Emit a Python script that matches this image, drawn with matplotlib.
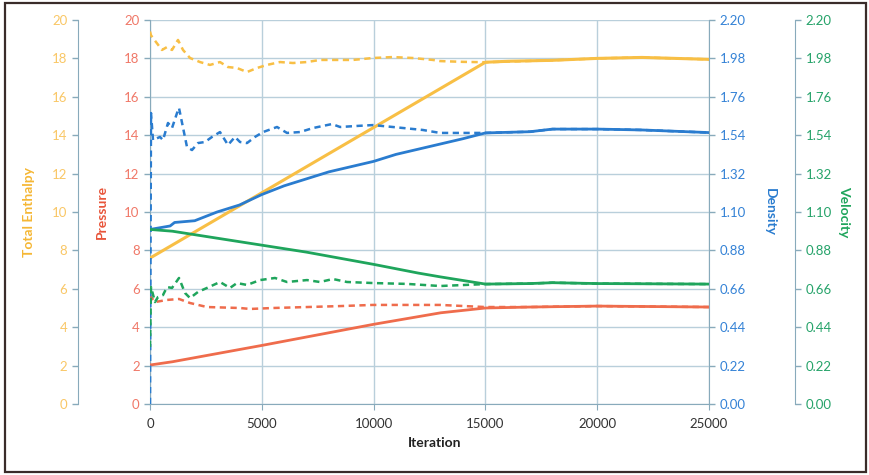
import matplotlib
matplotlib.use("Agg")
import matplotlib.pyplot as plt
from matplotlib.patches import Rectangle

# ---- data ----
ENTH_SOLID_IT = [0, 15000, 16000, 18000, 20000, 22000, 25000]
ENTH_SOLID = [7.6, 17.8, 17.85, 17.9, 18.0, 18.05, 17.95]

ENTH_DASH_IT = [0, 45, 134, 536, 760, 984, 1252, 1476, 1790, 2236, 2683, 3130, 3488, 3890,
                4338, 4785, 5232, 5815, 6395, 7020, 7600, 8180, 9075, 9970, 10860, 11760,
                12650, 12970, 14000, 15000, 18000, 20000, 22000, 25000]
ENTH_DASH = [19.4, 19.2, 19.06, 18.44, 18.59, 18.44, 18.96, 18.44, 18.02, 17.81, 17.66, 17.81,
             17.55, 17.5, 17.29, 17.5, 17.66, 17.81, 17.76, 17.81, 17.92, 17.92, 17.92, 18.02,
             18.07, 18.02, 17.92, 17.86, 17.82, 17.8, 17.9, 18.0, 18.05, 17.95]

PRES_SOLID_IT = [0, 1000, 5000, 10000, 13000, 15000, 17000, 20000, 22000, 25000]
PRES_SOLID = [2.03, 2.2, 3.05, 4.15, 4.75, 5.0, 5.05, 5.1, 5.08, 5.05]

PRES_DASH_IT = [0, 45, 224, 760, 1297, 1790, 2549, 4025, 4470, 5500, 7020, 8500, 9970,
                11500, 12970, 15000, 17000, 20000, 22000, 25000]
PRES_DASH = [5.7, 5.57, 5.31, 5.42, 5.47, 5.26, 5.05, 5.0, 4.95, 5.0, 5.05, 5.1, 5.16,
             5.16, 5.16, 5.05, 5.05, 5.1, 5.08, 5.05]

DENS_SOLID_IT = [0, 900, 1100, 2000, 3000, 4000, 5000, 6000, 7000, 8000, 9000, 10000, 11000,
                 12000, 13000, 14000, 15000, 17000, 18000, 20000, 22000, 25000]
DENS_SOLID = [1.0, 1.02, 1.04, 1.05, 1.1, 1.14, 1.2, 1.25, 1.29, 1.33, 1.36, 1.39, 1.43,
              1.46, 1.49, 1.52, 1.553, 1.56, 1.575, 1.575, 1.57, 1.555]

DENS_DASH_IT = [0, 45, 134, 447, 581, 805, 984, 1208, 1297, 1655, 1878, 2146, 2459, 2772,
                3130, 3488, 3801, 4025, 4338, 4696, 5054, 5680, 6127, 6708, 7289, 8140, 8500,
                9254, 9970, 10860, 12200, 12970, 15000, 17000, 18000, 20000, 22000, 25000]
DENS_DASH = [0.0, 1.667, 1.512, 1.53, 1.512, 1.61, 1.581, 1.667, 1.696, 1.472, 1.455, 1.495,
             1.501, 1.53, 1.558, 1.484, 1.53, 1.501, 1.495, 1.53, 1.558, 1.587, 1.553, 1.558,
             1.581, 1.604, 1.587, 1.593, 1.598, 1.587, 1.57, 1.553, 1.553, 1.56, 1.575, 1.575,
             1.57, 1.555]

VEL_SOLID_IT = [0, 1000, 3000, 5000, 7000, 10000, 12000, 13000, 15000, 17000, 18000, 20000, 25000]
VEL_SOLID = [1.0, 0.99, 0.95, 0.91, 0.87, 0.8, 0.75, 0.728, 0.687, 0.69, 0.695, 0.69, 0.687]

VEL_DASH_IT = [0, 45, 224, 358, 581, 760, 984, 1297, 1566, 1790, 2146, 2549, 3130, 3577,
               3890, 4338, 4920, 5590, 6127, 7020, 7600, 8180, 8810, 9970, 11500, 12970,
               15000, 17000, 18000, 20000, 25000]
VEL_DASH = [0.327, 0.67, 0.584, 0.613, 0.624, 0.67, 0.665, 0.722, 0.636, 0.607, 0.642, 0.665,
            0.699, 0.665, 0.693, 0.682, 0.71, 0.722, 0.699, 0.71, 0.699, 0.716, 0.699, 0.693,
            0.688, 0.676, 0.687, 0.69, 0.695, 0.69, 0.687]

X_TICKS = [0, 5000, 10000, 15000, 20000, 25000]
P_TICKS = [0, 2, 4, 6, 8, 10, 12, 14, 16, 18, 20]
D_TICKS = [0.0, 0.22, 0.44, 0.66, 0.88, 1.10, 1.32, 1.54, 1.76, 1.98, 2.20]

YELLOW = "#f8bf45"
RED = "#ef6c4c"
BLUE = "#2a7ccf"
GREEN = "#1fa55c"
SPINE = "#88aabb"
GRID = "#b9cfdb"
DASH = (0, (2.5, 1.8))

plt.rcParams["font.family"] = ["Lato", "DejaVu Sans"]
plt.rcParams["font.size"] = 9.5

fig = plt.figure(figsize=(8.7, 4.75), dpi=100)
ax = fig.add_axes([150 / 870, 1 - 404 / 475, 559 / 870, 384 / 475])


def style(a, color):
    a.tick_params(axis="y", colors=SPINE, labelcolor=color, length=4, width=1, labelsize=9.5)
    for s in a.spines.values():
        s.set_visible(False)


# pressure (main axes)
ax.plot(PRES_SOLID_IT, PRES_SOLID, color=RED, lw=2.0, zorder=3)
ax.plot(PRES_DASH_IT, PRES_DASH, color=RED, lw=1.8, ls=DASH, zorder=3)
ax.set_xlim(0, 25000)
ax.set_ylim(0, 20)
ax.set_xticks(X_TICKS)
ax.set_yticks(P_TICKS)
ax.grid(True, color=GRID, lw=1.0)
ax.set_axisbelow(True)
style(ax, "#f07868")
ax.spines["left"].set_visible(True)
ax.spines["bottom"].set_visible(True)
ax.spines["left"].set_color(SPINE)
ax.spines["bottom"].set_color(SPINE)
ax.tick_params(axis="x", colors=SPINE, labelcolor="#333333", length=4, labelsize=9.5, pad=6)
ax.set_ylabel("Pressure", color="#e8553a", fontweight="bold", fontsize=10)
ax.yaxis.set_label_coords(-0.075, 0.5)
ax.set_xlabel("Iteration", color="#222222", fontweight="bold", fontsize=10)
ax.xaxis.set_label_coords(0.51, -0.085)

# total enthalpy
ax_h = ax.twinx()
ax_h.plot(ENTH_SOLID_IT, ENTH_SOLID, color=YELLOW, lw=2.2)
ax_h.plot(ENTH_DASH_IT, ENTH_DASH, color=YELLOW, lw=1.8, ls=DASH)
ax_h.set_ylim(0, 20)
ax_h.set_yticks(P_TICKS)
style(ax_h, "#f9c766")
ax_h.yaxis.set_ticks_position("left")
ax_h.yaxis.set_label_position("left")
ax_h.spines["left"].set_visible(True)
ax_h.spines["left"].set_position(("axes", -0.129))
ax_h.spines["left"].set_color(SPINE)
ax_h.set_ylabel("Total Enthalpy", color="#f5b735", fontweight="bold", fontsize=10)
ax_h.yaxis.set_label_coords(-0.206, 0.5)

# density
ax_d = ax.twinx()
ax_d.plot(DENS_SOLID_IT, DENS_SOLID, color=BLUE, lw=2.0)
ax_d.plot(DENS_DASH_IT, DENS_DASH, color=BLUE, lw=1.8, ls=DASH)
ax_d.set_ylim(0, 2.2)
ax_d.set_yticks(D_TICKS)
ax_d.set_yticklabels([f"{v:.2f}" for v in D_TICKS])
style(ax_d, "#3482d6")
ax_d.spines["right"].set_visible(True)
ax_d.spines["right"].set_color(SPINE)
ax_d.set_ylabel("Density", color=BLUE, fontweight="bold", fontsize=10, rotation=-90)
ax_d.yaxis.set_label_coords(1.12, 0.5)

# velocity
ax_v = ax.twinx()
ax_v.plot(VEL_SOLID_IT, VEL_SOLID, color=GREEN, lw=2.0)
ax_v.plot(VEL_DASH_IT, VEL_DASH, color=GREEN, lw=1.8, ls=DASH)
ax_v.set_ylim(0, 2.2)
ax_v.set_yticks(D_TICKS)
ax_v.set_yticklabels([f"{v:.2f}" for v in D_TICKS])
style(ax_v, "#26a36a")
ax_v.spines["right"].set_visible(True)
ax_v.spines["right"].set_position(("axes", 1.154))
ax_v.spines["right"].set_color(SPINE)
ax_v.set_ylabel("Velocity", color=GREEN, fontweight="bold", fontsize=10, rotation=-90)
ax_v.yaxis.set_label_coords(1.252, 0.5)

for a in (ax_h, ax_d, ax_v):
    a.set_xlim(0, 25000)

# outer frame
fig.patches.append(Rectangle((0.006, 0.006), 0.989, 0.988, transform=fig.transFigure,
                             fill=False, edgecolor="#3a2c2a", lw=1.6))

fig.savefig("out.png", dpi=100)
